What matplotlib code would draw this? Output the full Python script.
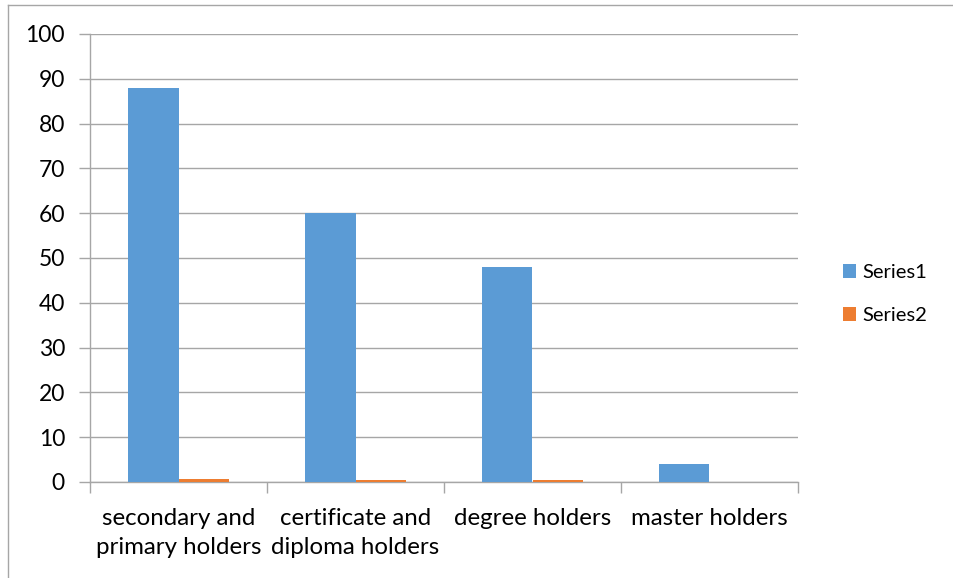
import matplotlib
matplotlib.use("Agg")
import matplotlib.pyplot as plt
from matplotlib.lines import Line2D
import numpy as np

categories = ["secondary and\nprimary holders", "certificate and\ndiploma holders",
              "degree holders", "master holders"]
series1 = [88, 60, 48, 4]
series2 = [0.6, 0.4, 0.4, 0.1]
yticks = list(range(0, 101, 10))

plt.rcParams["font.family"] = ["Lato", "DejaVu Sans"]

W, H = 954, 578
fig = plt.figure(figsize=(W / 100, H / 100), dpi=100)
ax = fig.add_axes([90 / W, 1 - 482 / H, (798 - 90) / W, (482 - 34) / H])

blue = "#5b9bd5"
orange = "#ed7d31"
grid_col = "#a6a6a6"

x = np.arange(len(categories))
bw = 0.285
ax.bar(x - bw / 2, series1, bw, color=blue, label="Series1", zorder=3)
ax.bar(x + bw / 2, series2, bw, color=orange, label="Series2", zorder=3)

ax.set_xlim(-0.5, len(categories) - 0.5)
ax.set_ylim(0, 100)
ax.set_yticks(yticks)
ax.set_yticklabels([str(v) for v in yticks], fontsize=16.5)
ax.yaxis.grid(True, color=grid_col, linewidth=1, zorder=0)

ax.set_xticks(np.arange(-0.5, len(categories), 1))
ax.set_xticklabels([])
ax.set_xticks(x, minor=True)
ax.set_xticklabels(categories, minor=True, fontsize=17.3, linespacing=1.45)
ax.tick_params(axis="x", which="minor", length=0, pad=19)
ax.tick_params(axis="x", which="major", length=8, color=grid_col, width=1)
ax.tick_params(axis="y", length=8, color=grid_col, width=1, pad=10)

for s in ["top", "right"]:
    ax.spines[s].set_visible(False)
for s in ["left", "bottom"]:
    ax.spines[s].set_color(grid_col)
    ax.spines[s].set_linewidth(1)

leg = ax.legend(loc="center left", bbox_to_anchor=(825 / W, 1 - 294 / H),
                bbox_transform=fig.transFigure, frameon=False, fontsize=14.5,
                handlelength=0.65, handleheight=0.65, handletextpad=0.3,
                labelspacing=1.3)

# outer chart border (left and top visible)
fig.add_artist(Line2D([8.5 / W, 8.5 / W], [0, 1 - 5 / H], color=grid_col, lw=1,
                      transform=fig.transFigure))
fig.add_artist(Line2D([8.5 / W, 1], [1 - 5 / H, 1 - 5 / H], color=grid_col, lw=1,
                      transform=fig.transFigure))

fig.savefig("out.png", dpi=100)
